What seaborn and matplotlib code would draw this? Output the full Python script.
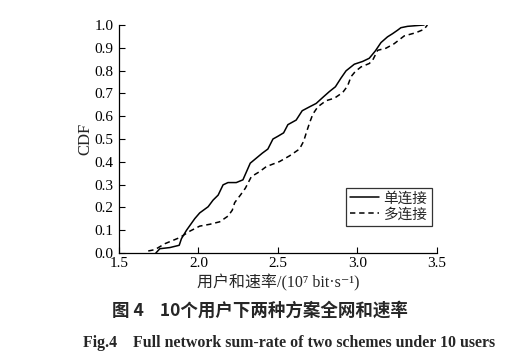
import numpy as np
import pandas as pd
import matplotlib
matplotlib.use("Agg")
import matplotlib.pyplot as plt
import seaborn as sns

sns.set_theme(style="ticks")
plt.rcParams['font.family'] = ['Liberation Serif', 'Noto Sans CJK SC', 'DejaVu Sans']
plt.rcParams['xtick.direction'] = 'in'
plt.rcParams['ytick.direction'] = 'in'

# single connection (solid)
single_x = [1.732, 1.757, 1.820, 1.879, 1.893, 1.925, 1.977, 2.008, 2.061, 2.092, 2.124,
            2.155, 2.186, 2.238, 2.280, 2.326, 2.364, 2.402, 2.437, 2.469, 2.500, 2.536,
            2.563, 2.615, 2.653, 2.699, 2.741, 2.782, 2.824, 2.862, 2.897, 2.929, 2.981,
            3.033, 3.075, 3.113, 3.149, 3.190, 3.222, 3.253, 3.274, 3.316, 3.420]
single_y = [0.000, 0.019, 0.024, 0.034, 0.063, 0.100, 0.151, 0.176, 0.203, 0.232, 0.254,
            0.299, 0.309, 0.309, 0.321, 0.394, 0.416, 0.438, 0.456, 0.500, 0.512, 0.527,
            0.563, 0.583, 0.624, 0.641, 0.656, 0.682, 0.708, 0.729, 0.767, 0.799, 0.828,
            0.840, 0.854, 0.886, 0.923, 0.948, 0.962, 0.977, 0.988, 0.994, 1.000]

# multi connection (dashed)
multi_x = [1.684, 1.726, 1.789, 1.883, 1.946, 2.008, 2.071, 2.134, 2.186, 2.213, 2.228,
           2.264, 2.295, 2.333, 2.385, 2.427, 2.510, 2.573, 2.636, 2.662, 2.680, 2.700,
           2.720, 2.751, 2.803, 2.856, 2.908, 2.939, 2.960, 2.987, 3.023, 3.075, 3.096,
           3.128, 3.180, 3.232, 3.295, 3.368, 3.420, 3.441]
multi_y = [0.009, 0.015, 0.041, 0.068, 0.096, 0.118, 0.126, 0.137, 0.162, 0.188, 0.221,
           0.254, 0.284, 0.335, 0.357, 0.379, 0.401, 0.426, 0.456, 0.490, 0.530, 0.572,
           0.609, 0.641, 0.668, 0.679, 0.704, 0.733, 0.773, 0.796, 0.816, 0.831, 0.845,
           0.889, 0.898, 0.918, 0.952, 0.966, 0.981, 1.000]

labels = ['单连接', '多连接']
xticks = [1.5, 2.0, 2.5, 3.0, 3.5]
yticks = [0.0, 0.1, 0.2, 0.3, 0.4, 0.5, 0.6, 0.7, 0.8, 0.9, 1.0]

df1 = pd.DataFrame({'rate': single_x, 'cdf': single_y})
df2 = pd.DataFrame({'rate': multi_x, 'cdf': multi_y})

fig = plt.figure(figsize=(5.27, 3.62), dpi=100)
ax = fig.add_axes([0.2258, 0.301, 0.603, 0.630])

sns.lineplot(data=df1, x='rate', y='cdf', sort=False, color='black', lw=1.1,
             label=labels[0], ax=ax)
sns.lineplot(data=df2, x='rate', y='cdf', sort=False, color='black', lw=1.1,
             linestyle=(0, (3.5, 2.5)), label=labels[1], ax=ax)

ax.set_xlim(1.5, 3.5)
ax.set_ylim(0.0, 1.0)
ax.set_xticks(xticks)
ax.set_yticks(yticks)
ax.set_xticklabels([f'{v:.1f}' for v in xticks], fontsize=11)
ax.set_yticklabels([f'{v:.1f}' for v in yticks], fontsize=11)
ax.tick_params(length=4, width=0.8, colors='black')
ax.tick_params(axis='y', pad=4)
ax.tick_params(axis='x', pad=3)
sns.despine(ax=ax)
for s in ['left', 'bottom']:
    ax.spines[s].set_color('black')
    ax.spines[s].set_linewidth(0.9)

ax.set_ylabel('CDF', fontsize=12, labelpad=1)
ax.set_xlabel('用户和速率/(10⁷ bit·s⁻¹)', fontsize=11.5, labelpad=3)

leg = ax.legend(loc='lower right', bbox_to_anchor=(0.984, 0.12), fontsize=10.5,
                frameon=True, fancybox=False, edgecolor='black', handlelength=2.0,
                borderpad=0.3, labelspacing=0.15, handletextpad=0.3, borderaxespad=0)
leg.get_frame().set_linewidth(0.9)

fig.text(0.493, 0.143, '图 4    10个用户下两种方案全网和速率', ha='center', va='center',
         fontsize=12.6, fontweight='bold', family=['Noto Sans CJK SC'])
fig.text(0.548, 0.052, 'Fig.4    Full network sum-rate of two schemes under 10 users',
         ha='center', va='center', fontsize=11.4, fontweight='bold',
         family=['Liberation Serif'])

fig.savefig('out.png', dpi=100)
